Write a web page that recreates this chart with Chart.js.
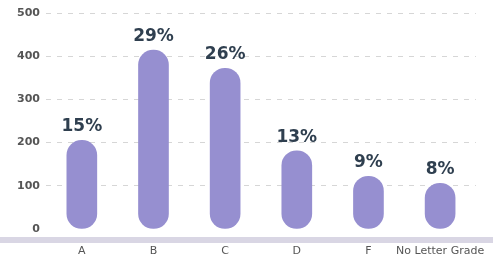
<!DOCTYPE html>
<html>
<head>
    <title>Grade Distribution</title>
    <script src="https://cdn.jsdelivr.net/npm/chart.js"></script>
    <style>
        html, body { margin: 0; padding: 0; background: #fff; }
        #wrap { width: 493px; height: 265px; }
    </style>
</head>
<body>
    <div id="wrap"><canvas id="gradeChart"></canvas></div>

    <script>
        const grades = ['A', 'B', 'C', 'D', 'F', 'No Letter Grade'];
        const counts = [205, 414, 372, 181, 122, 106];
        const percents = ['15%', '29%', '26%', '13%', '9%', '8%'];
        const yTicks = [0, 100, 200, 300, 400, 500];

        // percent labels above each bar + the grey band under the axis
        const extras = {
            id: 'extras',
            afterDatasetsDraw(chart) {
                const ctx = chart.ctx;
                const meta = chart.getDatasetMeta(0);
                ctx.save();
                ctx.fillStyle = '#d9d6e4';
                ctx.fillRect(0, chart.chartArea.bottom + 8, chart.width, 6);
                ctx.font = 'bold 17px "DejaVu Sans"';
                ctx.fillStyle = '#2f3f4f';
                ctx.textAlign = 'center';
                ctx.textBaseline = 'bottom';
                meta.data.forEach((bar, i) => {
                    ctx.fillText(percents[i], bar.x, bar.y - 5);
                });
                ctx.restore();
            }
        };

        const ctx = document.getElementById('gradeChart').getContext('2d');

        new Chart(ctx, {
            type: 'bar',
            data: {
                labels: grades,
                datasets: [{
                    data: counts,
                    backgroundColor: '#968fd0',
                    borderRadius: 15,
                    borderSkipped: false,
                    barThickness: 30
                }]
            },
            plugins: [extras],
            options: {
                responsive: true,
                maintainAspectRatio: false,
                animation: false,
                layout: { padding: { top: 13, left: 12, right: 10, bottom: 6 } },
                plugins: {
                    legend: { display: false },
                    tooltip: { enabled: false }
                },
                scales: {
                    x: {
                        grid: { display: false },
                        border: { display: false },
                        afterFit(scale) { scale.height = 30; },
                        ticks: {
                            padding: 8,
                            maxRotation: 0,
                            minRotation: 0,
                            autoSkip: false,
                            color: '#555',
                            font: { family: 'DejaVu Sans', size: 11 }
                        }
                    },
                    y: {
                        min: 0,
                        max: 500,
                        afterFit(scale) { scale.width = 34; },
                        afterBuildTicks(scale) {
                            scale.ticks = yTicks.map(v => ({ value: v }));
                        },
                        border: { display: false, dash: [5, 6] },
                        grid: {
                            drawTicks: false,
                            color: c => c.tick && c.tick.value === 0 ? 'rgba(0,0,0,0)' : '#d6d6d6'
                        },
                        ticks: {
                            padding: 6,
                            color: '#555',
                            font: { family: 'DejaVu Sans', size: 11, weight: 'bold' }
                        }
                    }
                }
            }
        });
    </script>
</body>
</html>
